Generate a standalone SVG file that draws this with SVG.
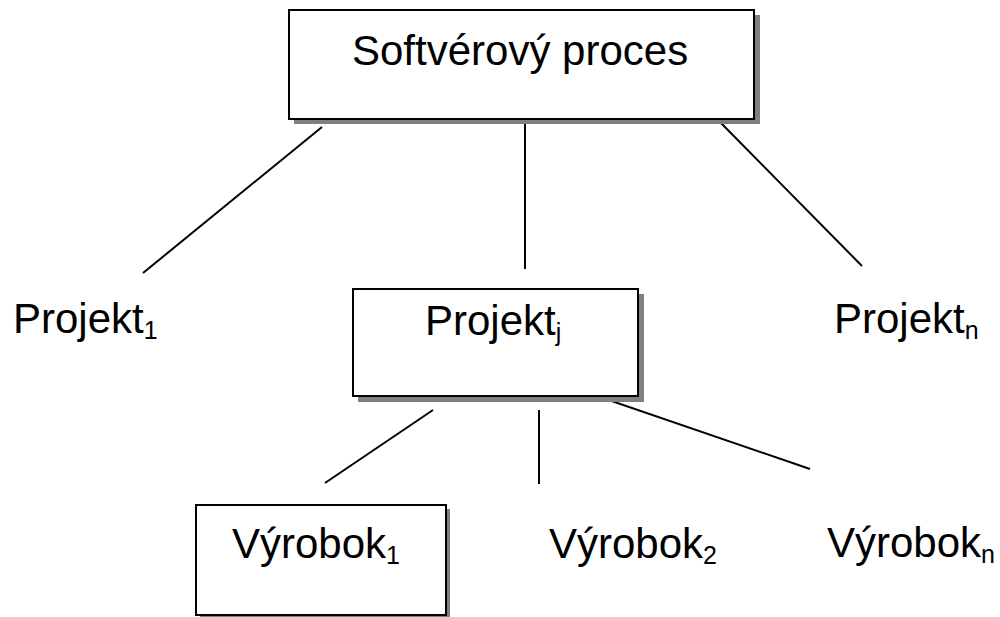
<svg xmlns="http://www.w3.org/2000/svg" width="1000" height="617" viewBox="0 0 1000 617">
<style>
.box{fill:#fff;stroke:#000;stroke-width:2}
.shadow{fill:#808080}
.lbl{font-family:"Liberation Sans",Arial,sans-serif;font-size:42px;fill:#000}
.sub{font-size:25px}
.conn{stroke:#000;stroke-width:2;fill:none}
</style>
<rect width="1000" height="617" fill="#fff"/>
<g id="connectors">
<line class="conn" x1="322" y1="127" x2="143" y2="273"/>
<line class="conn" x1="525" y1="123" x2="525" y2="269"/>
<line class="conn" x1="718" y1="120" x2="862" y2="266"/>
<line class="conn" x1="433" y1="410" x2="325" y2="483"/>
<line class="conn" x1="539" y1="410" x2="539" y2="484"/>
<line class="conn" x1="597" y1="396" x2="810" y2="469"/>
</g>
<g id="softverovy-proces">
<rect class="shadow" x="294" y="15" width="466" height="109"/>
<rect class="box" x="289" y="10" width="465" height="109"/>
<text class="lbl" x="352" y="65">Softvérový proces</text>
</g>
<g id="projekt-1">
<text class="lbl" x="13" y="333">Projekt<tspan class="sub" dy="6">1</tspan></text>
</g>
<g id="projekt-j">
<rect class="shadow" x="358" y="294" width="286" height="108"/>
<rect class="box" x="353" y="289" width="285" height="107"/>
<text class="lbl" x="425" y="335">Projekt<tspan class="sub" dy="6">j</tspan></text>
</g>
<g id="projekt-n">
<text class="lbl" x="834" y="333">Projekt<tspan class="sub" dy="6">n</tspan></text>
</g>
<g id="vyrobok-1">
<rect class="shadow" x="200" y="509" width="250" height="110"/>
<rect class="box" x="196" y="505" width="250" height="110"/>
<text class="lbl" x="232" y="558">Výrobok<tspan class="sub" dy="6">1</tspan></text>
</g>
<g id="vyrobok-2">
<text class="lbl" x="549" y="558">Výrobok<tspan class="sub" dy="6">2</tspan></text>
</g>
<g id="vyrobok-n">
<text class="lbl" x="827" y="557">Výrobok<tspan class="sub" dy="6">n</tspan></text>
</g>
</svg>
